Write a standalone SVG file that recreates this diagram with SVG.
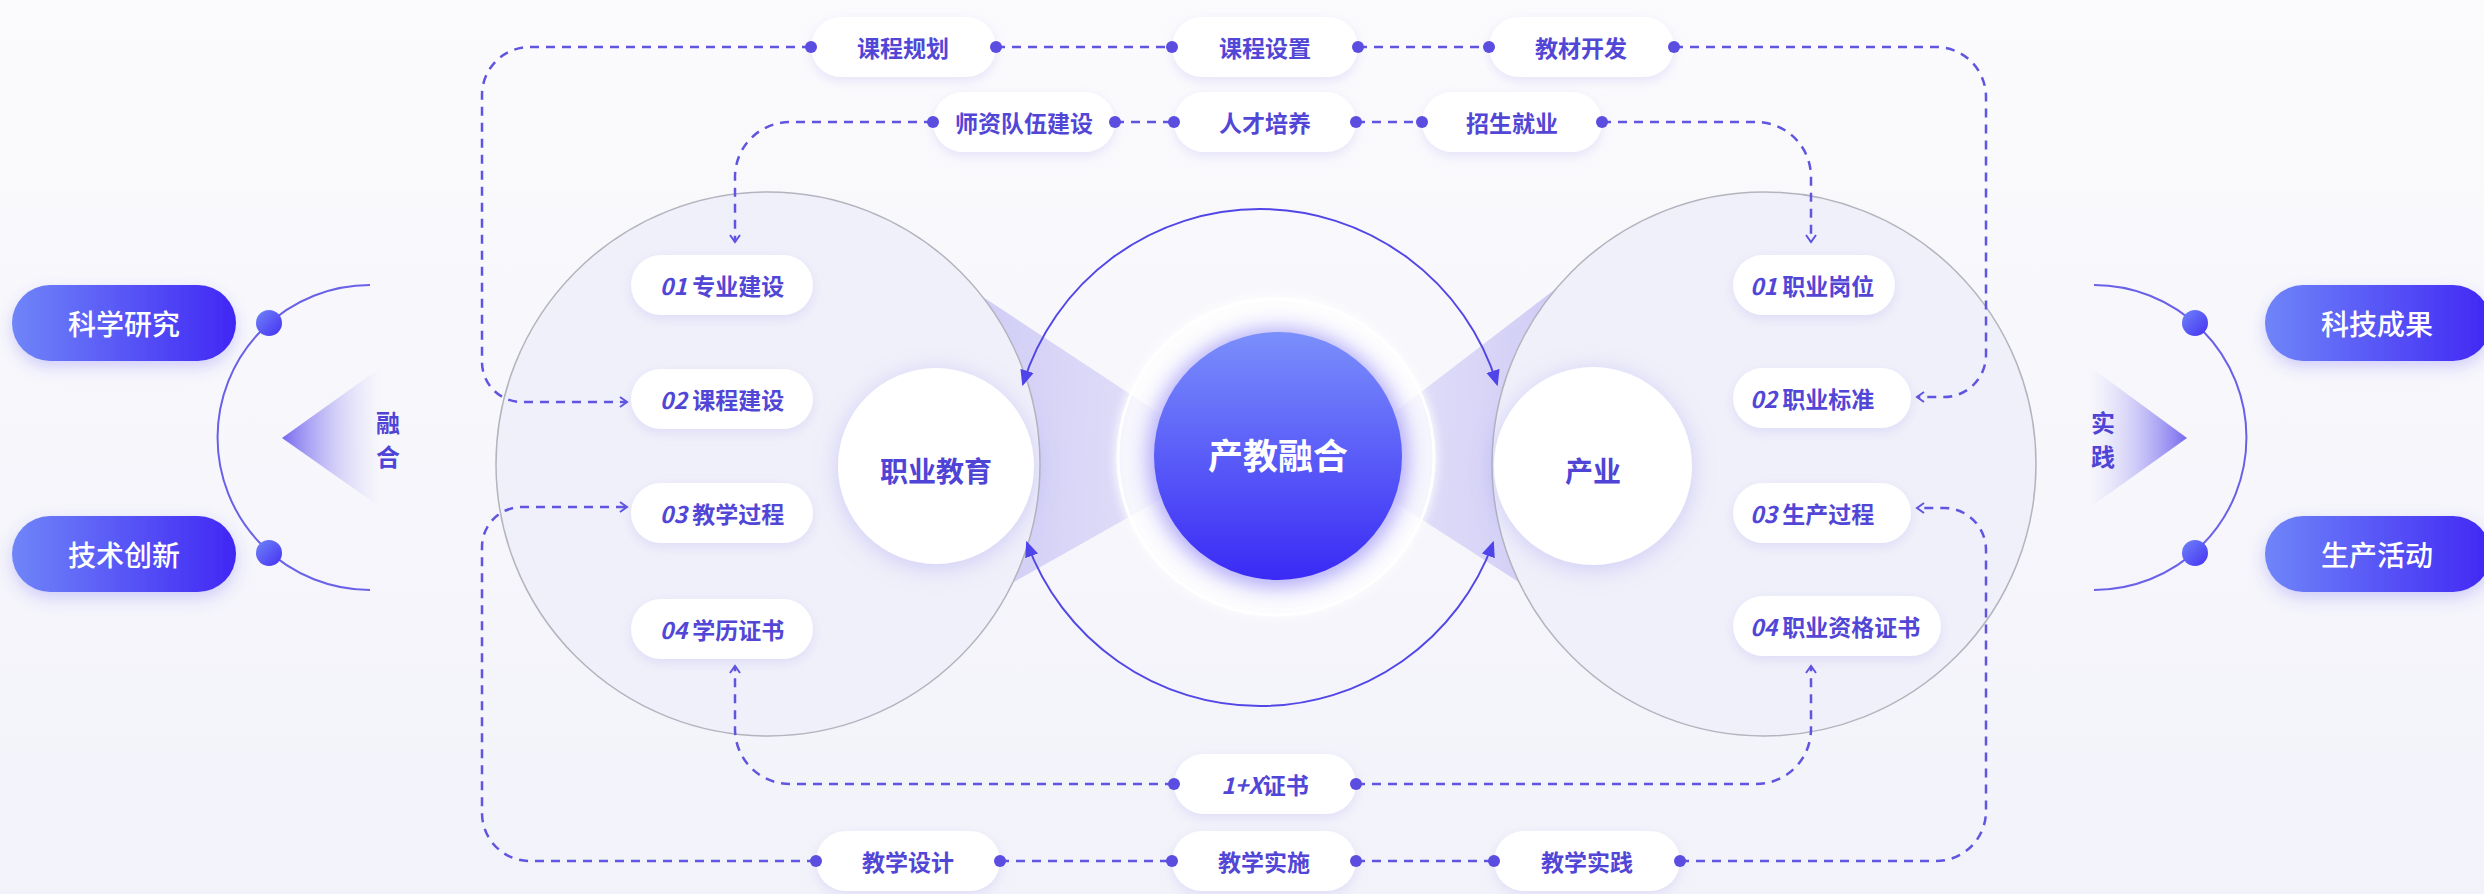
<svg xmlns="http://www.w3.org/2000/svg" width="2484" height="894" viewBox="0 0 2484 894">
<defs>
<style>
.lbl{font-family:'Noto Sans CJK SC','Noto Sans',sans-serif;font-size:23px;font-weight:700;fill:#5246d6;text-anchor:middle;dominant-baseline:central}
.lbls{font-family:'Noto Sans CJK SC','Noto Sans',sans-serif;font-size:23px;font-weight:700;fill:#5246d6;text-anchor:start;dominant-baseline:central}
.num{font-style:italic}
.wl{font-family:'Noto Sans CJK SC','Noto Sans',sans-serif;font-size:28px;font-weight:500;fill:#ffffff;text-anchor:middle;dominant-baseline:central}
.big{font-family:'Noto Sans CJK SC','Noto Sans',sans-serif;font-size:28px;font-weight:700;fill:#4f44d6;text-anchor:middle;dominant-baseline:central}
.vt{font-family:'Noto Sans CJK SC','Noto Sans',sans-serif;font-size:24px;font-weight:700;fill:#4f44d6;text-anchor:middle;dominant-baseline:central}
.pill{fill:#ffffff;filter:url(#ps)}
.bpill{fill:url(#gBlue);filter:url(#bs)}
.conn{fill:none;stroke:#5f55e0;stroke-width:2.5;stroke-dasharray:9 7}
.dot{fill:#5a4de0}
.ring{fill:none;stroke:#5247e6;stroke-width:2}
.oarc{fill:none;stroke:#6a61e8;stroke-width:2}
.bigc{fill:#f0f0fa;stroke:#b4b4be;stroke-width:1.5}
.wc{fill:#ffffff;filter:url(#ws)}
</style>
<linearGradient id="bg" x1="0" y1="0" x2="0" y2="1">
<stop offset="0" stop-color="#fbfbfd"/><stop offset="1" stop-color="#f2f2fa"/>
</linearGradient>
<linearGradient id="gBlue" x1="0" y1="0" x2="1" y2="0">
<stop offset="0" stop-color="#6f85f8"/><stop offset="1" stop-color="#4127f4"/>
</linearGradient>
<linearGradient id="gDot" x1="0" y1="0" x2="1" y2="1">
<stop offset="0" stop-color="#6f85f8"/><stop offset="1" stop-color="#4530f2"/>
</linearGradient>
<linearGradient id="gCore" x1="0" y1="0" x2="0" y2="1">
<stop offset="0" stop-color="#7a8ffb"/><stop offset="1" stop-color="#3a2af5"/>
</linearGradient>
<linearGradient id="gTriL" x1="0" y1="0" x2="1" y2="0">
<stop offset="0" stop-color="#7062ee" stop-opacity="0.95"/><stop offset="1" stop-color="#c9c4f6" stop-opacity="0"/>
</linearGradient>
<linearGradient id="gTriR" x1="1" y1="0" x2="0" y2="0">
<stop offset="0" stop-color="#7062ee" stop-opacity="0.95"/><stop offset="1" stop-color="#c9c4f6" stop-opacity="0"/>
</linearGradient>
<linearGradient id="gWedgeL" x1="936" y1="0" x2="1230" y2="0" gradientUnits="userSpaceOnUse">
<stop offset="0" stop-color="#c6c1f4" stop-opacity="0.9"/><stop offset="1" stop-color="#d6d3f7" stop-opacity="0.5"/>
</linearGradient>
<linearGradient id="gWedgeR" x1="1593" y1="0" x2="1331" y2="0" gradientUnits="userSpaceOnUse">
<stop offset="0" stop-color="#c6c1f4" stop-opacity="0.9"/><stop offset="1" stop-color="#d6d3f7" stop-opacity="0.5"/>
</linearGradient>
<filter id="ps" x="-30%" y="-50%" width="160%" height="200%">
<feDropShadow dx="0" dy="4" stdDeviation="6" flood-color="#b3acef" flood-opacity="0.3"/>
</filter>
<filter id="bs" x="-30%" y="-50%" width="160%" height="220%">
<feDropShadow dx="0" dy="6" stdDeviation="8" flood-color="#5a4cf0" flood-opacity="0.25"/>
</filter>
<filter id="ws" x="-40%" y="-40%" width="180%" height="180%">
<feDropShadow dx="0" dy="4" stdDeviation="12" flood-color="#8f86ee" flood-opacity="0.35"/>
</filter>
<filter id="blur4" x="-30%" y="-30%" width="160%" height="160%"><feGaussianBlur stdDeviation="4"/></filter>
<filter id="blur10" x="-40%" y="-40%" width="180%" height="180%"><feGaussianBlur stdDeviation="10"/></filter>
<marker id="chev" viewBox="0 0 12 12" refX="10" refY="6" markerWidth="12" markerHeight="12" markerUnits="userSpaceOnUse" orient="auto">
<path d="M3 1 L10 6 L3 11" fill="none" stroke="#5f55e0" stroke-width="2"/>
</marker>
<marker id="tri" viewBox="0 0 14 12" refX="12" refY="6" markerWidth="16" markerHeight="14" markerUnits="userSpaceOnUse" orient="auto-start-reverse">
<path d="M0 0 L14 6 L0 12 Z" fill="#4f44ea"/>
</marker>
</defs>

<rect x="0" y="0" width="2484" height="894" fill="url(#bg)"/>

<!-- wedges (behind big circles) -->
<g id="wedges">
<polygon points="936,266 1230,460 936,626" fill="url(#gWedgeL)"/>
<polygon points="1593,260 1331,461 1593,630" fill="url(#gWedgeR)"/>
</g>

<!-- big container circles -->
<g id="edu-area"><circle class="bigc" cx="768" cy="464" r="272"/></g>
<g id="ind-area"><circle class="bigc" cx="1764" cy="464" r="272"/></g>

<!-- central halo and core -->
<g id="core">
<circle cx="1276" cy="457" r="162" fill="#ffffff" opacity="0.75" filter="url(#blur4)"/>
<circle cx="1276" cy="457" r="158" fill="none" stroke="#ffffff" stroke-width="3" opacity="0.9"/>
<circle cx="1278" cy="458" r="130" fill="#5b4cf2" opacity="0.45" filter="url(#blur10)"/>
<circle cx="1278" cy="456" r="124" fill="url(#gCore)"/>
<text x="1278" y="453" class="wl" style="font-size:35px;font-weight:700">产教融合</text>
</g>

<!-- ring arrows -->
<g id="ring">
<path class="ring" d="M 1023 384 A 248 248 0 0 1 1497 384" marker-start="url(#tri)" marker-end="url(#tri)"/>
<path class="ring" d="M 1027 543 A 248 248 0 0 0 1493 543" marker-start="url(#tri)" marker-end="url(#tri)"/>
</g>

<g id="edu"><circle class="wc" cx="936" cy="466" r="98"/><text x="936" y="470" class="big">职业教育</text></g>
<g id="industry"><circle class="wc" cx="1593" cy="466" r="99"/><text x="1593" y="470" class="big">产业</text></g>

<!-- left side: research/innovation -->
<g id="left-fuse">
<path class="oarc" d="M 370 285 A 152.5 152.5 0 0 0 370 590"/>
<polygon points="282,438 380,368 380,507" fill="url(#gTriL)"/>
<text x="388" y="421" class="vt">融</text>
<text x="388" y="455" class="vt">合</text>
<circle cx="269" cy="323" r="13" fill="url(#gDot)"/>
<circle cx="269" cy="553" r="13" fill="url(#gDot)"/>
</g>
<g id="n-kxyj"><rect class="bpill" x="12" y="285" width="224" height="76" rx="38"/><text x="124" y="323" class="wl">科学研究</text></g>
<g id="n-jscx"><rect class="bpill" x="12" y="516" width="224" height="76" rx="38"/><text x="124" y="554" class="wl">技术创新</text></g>

<!-- right side: practice -->
<g id="right-practice">
<path class="oarc" d="M 2094 285 A 152.5 152.5 0 0 1 2094 590"/>
<polygon points="2187,438 2089,366 2089,508" fill="url(#gTriR)"/>
<text x="2103" y="421" class="vt">实</text>
<text x="2103" y="455" class="vt">践</text>
<circle cx="2195" cy="323" r="13" fill="url(#gDot)"/>
<circle cx="2195" cy="553" r="13" fill="url(#gDot)"/>
</g>
<g id="n-kjcg"><rect class="bpill" x="2265" y="285" width="226" height="76" rx="38"/><text x="2377" y="323" class="wl">科技成果</text></g>
<g id="n-schd"><rect class="bpill" x="2265" y="516" width="226" height="76" rx="38"/><text x="2377" y="554" class="wl">生产活动</text></g>

<!-- left inner pills -->
<g id="n-zyjs"><rect class="pill" x="631" y="255" width="182" height="60" rx="30"/><text x="722" y="285" class="lbl"><tspan class="num">01</tspan> 专业建设</text></g>
<g id="n-kcjs"><rect class="pill" x="631" y="369" width="182" height="60" rx="30"/><text x="722" y="399" class="lbl"><tspan class="num">02</tspan> 课程建设</text></g>
<g id="n-jxgc"><rect class="pill" x="631" y="483" width="182" height="60" rx="30"/><text x="722" y="513" class="lbl"><tspan class="num">03</tspan> 教学过程</text></g>
<g id="n-xlzs"><rect class="pill" x="631" y="599" width="182" height="60" rx="30"/><text x="722" y="629" class="lbl"><tspan class="num">04</tspan> 学历证书</text></g>

<!-- right inner pills -->
<g id="n-zygw"><rect class="pill" x="1733" y="255" width="162" height="60" rx="30"/><text x="1750" y="285" class="lbls"><tspan class="num">01</tspan> 职业岗位</text></g>
<g id="n-zybz"><rect class="pill" x="1733" y="368" width="178" height="60" rx="30"/><text x="1750" y="398" class="lbls"><tspan class="num">02</tspan> 职业标准</text></g>
<g id="n-scgc"><rect class="pill" x="1733" y="483" width="178" height="60" rx="30"/><text x="1750" y="513" class="lbls"><tspan class="num">03</tspan> 生产过程</text></g>
<g id="n-zyzg"><rect class="pill" x="1733" y="596" width="208" height="60" rx="30"/><text x="1750" y="626" class="lbls"><tspan class="num">04</tspan> 职业资格证书</text></g>

<!-- top rows -->
<g id="n-kcgh"><rect class="pill" x="811" y="17" width="185" height="60" rx="30"/><text x="903" y="47" class="lbl">课程规划</text></g>
<g id="n-kcsz"><rect class="pill" x="1172" y="17" width="186" height="60" rx="30"/><text x="1265" y="47" class="lbl">课程设置</text></g>
<g id="n-jckf"><rect class="pill" x="1489" y="17" width="185" height="60" rx="30"/><text x="1581" y="47" class="lbl">教材开发</text></g>
<g id="n-szdw"><rect class="pill" x="933" y="92" width="182" height="60" rx="30"/><text x="1024" y="122" class="lbl">师资队伍建设</text></g>
<g id="n-rcpy"><rect class="pill" x="1174" y="92" width="182" height="60" rx="30"/><text x="1265" y="122" class="lbl">人才培养</text></g>
<g id="n-zsjy"><rect class="pill" x="1422" y="92" width="180" height="60" rx="30"/><text x="1512" y="122" class="lbl">招生就业</text></g>

<!-- bottom rows -->
<g id="n-1x"><rect class="pill" x="1174" y="754" width="182" height="60" rx="30"/><text x="1265" y="784" class="lbl"><tspan class="num">1+X</tspan>证书</text></g>
<g id="n-jxsj"><rect class="pill" x="816" y="831" width="184" height="60" rx="30"/><text x="908" y="861" class="lbl">教学设计</text></g>
<g id="n-jxss"><rect class="pill" x="1172" y="831" width="184" height="60" rx="30"/><text x="1264" y="861" class="lbl">教学实施</text></g>
<g id="n-jxsj2"><rect class="pill" x="1494" y="831" width="186" height="60" rx="30"/><text x="1587" y="861" class="lbl">教学实践</text></g>

<!-- connectors -->
<g id="connectors">
<path class="conn" d="M 996 47 H 1172"/>
<path class="conn" d="M 1358 47 H 1489"/>
<path class="conn" d="M 1115 122 H 1174"/>
<path class="conn" d="M 1356 122 H 1422"/>
<path class="conn" d="M 1000 861 H 1172"/>
<path class="conn" d="M 1356 861 H 1494"/>
<path class="conn" d="M 811 47 H 530 A 48 48 0 0 0 482 95 V 362 A 40 40 0 0 0 522 402 H 627" marker-end="url(#chev)"/>
<path class="conn" d="M 816 861 H 530 A 48 48 0 0 1 482 813 V 547 A 40 40 0 0 1 522 507 H 627" marker-end="url(#chev)"/>
<path class="conn" d="M 933 122 H 790 A 55 55 0 0 0 735 177 V 242" marker-end="url(#chev)"/>
<path class="conn" d="M 1174 784 H 790 A 55 55 0 0 1 735 729 V 666" marker-end="url(#chev)"/>
<path class="conn" d="M 1674 47 H 1936 A 50 50 0 0 1 1986 97 V 355 A 42 42 0 0 1 1944 397 H 1917" marker-end="url(#chev)"/>
<path class="conn" d="M 1680 861 H 1936 A 50 50 0 0 0 1986 811 V 550 A 42 42 0 0 0 1944 508 H 1917" marker-end="url(#chev)"/>
<path class="conn" d="M 1602 122 H 1756 A 55 55 0 0 1 1811 177 V 242" marker-end="url(#chev)"/>
<path class="conn" d="M 1356 784 H 1756 A 55 55 0 0 0 1811 729 V 666" marker-end="url(#chev)"/>
<circle class="dot" cx="811" cy="47" r="6"/><circle class="dot" cx="996" cy="47" r="6"/>
<circle class="dot" cx="1172" cy="47" r="6"/><circle class="dot" cx="1358" cy="47" r="6"/>
<circle class="dot" cx="1489" cy="47" r="6"/><circle class="dot" cx="1674" cy="47" r="6"/>
<circle class="dot" cx="933" cy="122" r="6"/><circle class="dot" cx="1115" cy="122" r="6"/>
<circle class="dot" cx="1174" cy="122" r="6"/><circle class="dot" cx="1356" cy="122" r="6"/>
<circle class="dot" cx="1422" cy="122" r="6"/><circle class="dot" cx="1602" cy="122" r="6"/>
<circle class="dot" cx="1174" cy="784" r="6"/><circle class="dot" cx="1356" cy="784" r="6"/>
<circle class="dot" cx="816" cy="861" r="6"/><circle class="dot" cx="1000" cy="861" r="6"/>
<circle class="dot" cx="1172" cy="861" r="6"/><circle class="dot" cx="1356" cy="861" r="6"/>
<circle class="dot" cx="1494" cy="861" r="6"/><circle class="dot" cx="1680" cy="861" r="6"/>
</g>
</svg>
